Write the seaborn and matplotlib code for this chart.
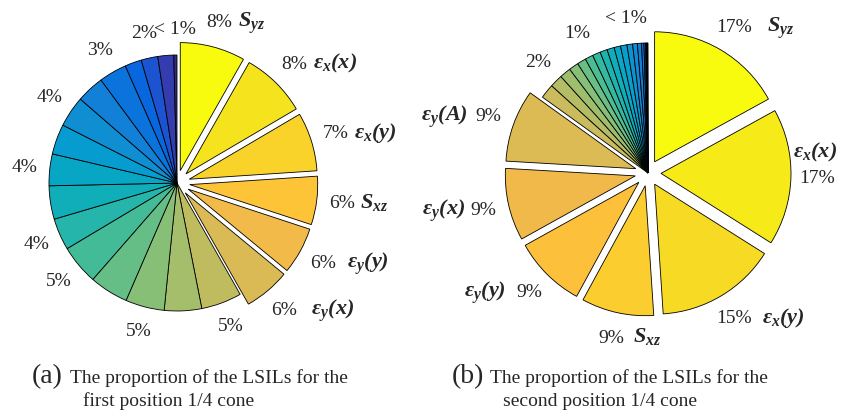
import numpy as np
import matplotlib
matplotlib.use("Agg")
import matplotlib.pyplot as plt
import seaborn as sns
from matplotlib.colors import LinearSegmentedColormap

# ---- data (slices clockwise from 12 o'clock) ----
# (a) first position 1/4 cone
left_values = [8.2, 8.3, 7.4, 6.1, 5.9, 5.8,
               5.1, 4.7, 4.9, 4.9, 5.0, 4.0, 4.2, 4.0, 3.8, 3.9, 3.5, 3.5, 2.1, 2.1, 2.0, 0.4]
left_pct = ['8%', '8%', '7%', '6%', '6%', '6%',
            '5%', '', '5%', '', '5%', '4%', '', '4%', '', '4%', '', '3%', '', '2%', '', '< 1%']
left_names = [r'$\mathbf{S}_{\mathbf{yz}}$', r'$\mathbf{ε}_{\mathbf{x}}\mathbf{(x)}$',
              r'$\mathbf{ε}_{\mathbf{x}}\mathbf{(y)}$', r'$\mathbf{S}_{\mathbf{xz}}$',
              r'$\mathbf{ε}_{\mathbf{y}}\mathbf{(y)}$', r'$\mathbf{ε}_{\mathbf{y}}\mathbf{(x)}$']

# (b) second position 1/4 cone
right_values = [17, 17, 15, 9, 9, 9, 9,
                1.8, 1.6, 1.4, 1.2, 1.1, 1.0, 1.0, 0.9, 0.9, 0.8, 0.8, 0.7, 0.6, 0.5,
                0.3, 0.2, 0.1, 0.1, 0.05, 0.05]
right_pct = ['17%', '17%', '15%', '9%', '9%', '9%', '9%',
             '', '2%', '', '', '', '1%', '', '', '', '', '', '< 1%', '', '',
             '', '', '', '', '', '']
right_names = [r'$\mathbf{S}_{\mathbf{yz}}$', r'$\mathbf{ε}_{\mathbf{x}}\mathbf{(x)}$',
               r'$\mathbf{ε}_{\mathbf{x}}\mathbf{(y)}$', r'$\mathbf{S}_{\mathbf{xz}}$',
               r'$\mathbf{ε}_{\mathbf{y}}\mathbf{(y)}$', r'$\mathbf{ε}_{\mathbf{y}}\mathbf{(x)}$',
               r'$\mathbf{ε}_{\mathbf{y}}\mathbf{(A)}$']

captions = ['The proportion of the LSILs for the\nfirst position 1/4 cone',
            'The proportion of the LSILs for the\nsecond position 1/4 cone']

# where the symbol sits next to its percentage: (side, gap in px)
left_sym = [('right', 6), ('right', 6), ('right', 5), ('right', 5), ('right', 11), ('right', 14)]
right_sym = [('right', 15), ('above', -6), ('right', 10), ('right', 8),
             ('left', 10), ('left', 5), ('left', 8)]

# parula-like colormap
parula_pts = [
    (0, (0.2081, 0.1663, 0.5292)), (4, (0.1959, 0.2645, 0.7279)), (7, (0.0591, 0.3598, 0.8683)),
    (10, (0.0165, 0.4266, 0.8786)), (14, (0.0723, 0.4887, 0.8467)), (18, (0.0641, 0.5570, 0.8240)),
    (21, (0.0265, 0.6137, 0.8135)), (25, (0.0267, 0.6642, 0.7607)), (28, (0.0843, 0.6928, 0.7062)),
    (32, (0.2178, 0.7250, 0.6193)), (35, (0.3482, 0.7424, 0.5473)), (39, (0.5300, 0.7491, 0.4661)),
    (42, (0.6473, 0.7456, 0.4188)), (46, (0.7858, 0.7356, 0.3633)), (49, (0.8824, 0.7274, 0.3217)),
    (51, (0.9450, 0.7261, 0.2886)), (53, (0.9938, 0.7455, 0.2403)), (55, (0.9955, 0.7861, 0.1967)),
    (57, (0.9789, 0.8271, 0.1633)), (60, (0.9589, 0.8949, 0.1132)), (63, (0.9763, 0.9831, 0.0538))]
parula = LinearSegmentedColormap.from_list('parula', [(i / 63, c) for i, c in parula_pts])

sns.set_theme(style="white")
plt.rcParams['font.family'] = ['Liberation Serif', 'DejaVu Serif']
plt.rcParams['mathtext.fontset'] = 'custom'
plt.rcParams['mathtext.rm'] = 'Liberation Serif'
plt.rcParams['mathtext.it'] = 'Liberation Serif:italic'
plt.rcParams['mathtext.bf'] = 'Liberation Serif:italic:bold'

W, H = 841, 415
fig = plt.figure(figsize=(W / 100, H / 100), dpi=100)


def pie_axes(cx, cy, r, L=1.6):
    side = 2 * L * r
    ax = fig.add_axes([(cx - L * r) / W, (H - cy - L * r) / H, side / W, side / H])
    return ax, L


def draw_pie(ax, L, values, pct, names, sym):
    n = len(values)
    n_exp = len(names)
    colors = sns.color_palette(parula(np.linspace(1, 0, n)))
    explode = [0.1] * n_exp + [0] * (n - n_exp)
    wedges, texts = ax.pie(values, explode=explode, labels=pct, colors=colors,
                           startangle=90, counterclock=False, labeldistance=1.2,
                           wedgeprops=dict(edgecolor='black', linewidth=0.6),
                           textprops=dict(fontsize=14))
    for t in texts:
        t.set_ha('center')
    for t, name, (side, gap) in zip(texts, names, sym):
        if side == 'right':
            ax.annotate(name, xy=(1, 0.24), xycoords=t, xytext=(gap, 0),
                        textcoords='offset pixels', ha='left', va='baseline', fontsize=16)
        elif side == 'left':
            ax.annotate(name, xy=(0, 0.24), xycoords=t, xytext=(-gap, 0),
                        textcoords='offset pixels', ha='right', va='baseline', fontsize=16)
        else:
            ax.annotate(name, xy=(0, 1), xycoords=t, xytext=(gap, 6),
                        textcoords='offset pixels', ha='left', va='bottom', fontsize=16)
    ax.set_xlim(-L, L)
    ax.set_ylim(-L, L)
    ax.set_aspect('equal')
    ax.axis('off')


ax1, L1 = pie_axes(177, 183, 128)
draw_pie(ax1, L1, left_values, left_pct, left_names, left_sym)
ax2, L2 = pie_axes(648, 173, 130)
draw_pie(ax2, L2, right_values, right_pct, right_names, right_sym)

# captions
for x_tag, x_txt, tag, cap in [(32, 70, '(a)', captions[0]), (452, 490, '(b)', captions[1])]:
    fig.text(x_tag / W, 1 - 383 / H, tag, fontsize=20, va='baseline', ha='left')
    first, second = cap.split('\n')
    fig.text(x_txt / W, 1 - 383 / H, first, fontsize=14, va='baseline', ha='left')
    fig.text((x_txt + 13) / W, 1 - 406 / H, second, fontsize=14, va='baseline', ha='left')

fig.savefig('out.png', dpi=100)
